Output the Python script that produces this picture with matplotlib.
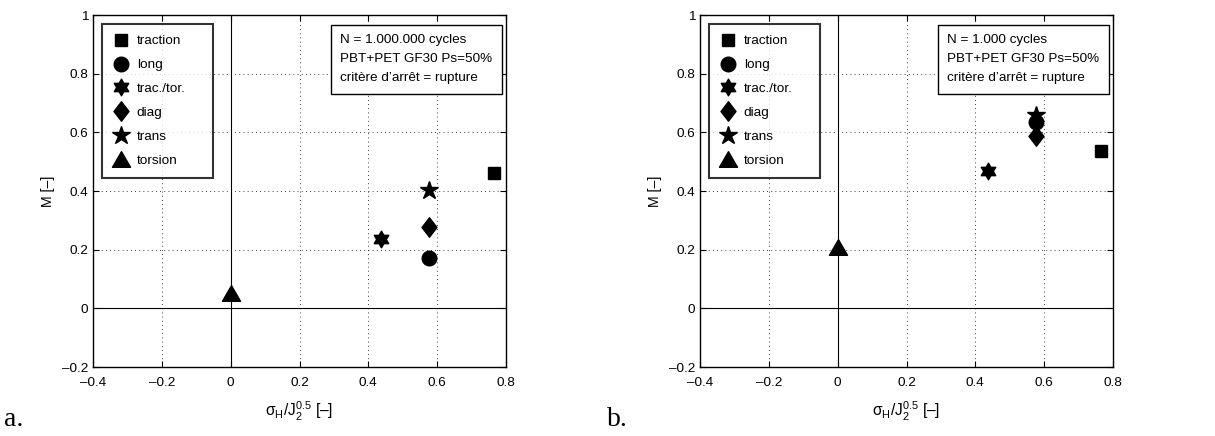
import numpy as np
import matplotlib
matplotlib.use("Agg")
import matplotlib.pyplot as plt
from matplotlib.path import Path
from matplotlib.ticker import FixedLocator, FixedFormatter

plt.rcParams['font.family'] = ['Liberation Sans', 'DejaVu Sans']
plt.rcParams['mathtext.fontset'] = 'custom'
plt.rcParams['mathtext.rm'] = 'Liberation Sans'
plt.rcParams['mathtext.it'] = 'Liberation Sans:italic'

# ---- data ----
series = ['traction', 'long', 'trac./tor.', 'diag', 'trans', 'torsion']
x_vals = [0.765, 0.577, 0.436, 0.577, 0.577, 0.0]
m_a = [0.463, 0.172, 0.236, 0.276, 0.405, 0.051]
m_b = [0.537, 0.634, 0.468, 0.586, 0.660, 0.210]
info_a = "N = 1.000.000 cycles\nPBT+PET GF30 Ps=50%\ncritère d’arrêt = rupture"
info_b = "N = 1.000 cycles\nPBT+PET GF30 Ps=50%\ncritère d’arrêt = rupture"
xticks = [-0.4, -0.2, 0, 0.2, 0.4, 0.6, 0.8]
xticklabels = ['–0.4', '–0.2', '0', '0.2', '0.4', '0.6', '0.8']
yticks = [-0.2, 0, 0.2, 0.4, 0.6, 0.8, 1.0]
yticklabels = ['–0.2', '0', '0.2', '0.4', '0.6', '0.8', '1']

# hexagram marker
ang_o = np.deg2rad(90 + np.arange(6) * 60)
ang_i = ang_o + np.deg2rad(30)
r_in = 1 / np.sqrt(3)
verts = []
for ao, ai in zip(ang_o, ang_i):
    verts.append((np.cos(ao), np.sin(ao)))
    verts.append((r_in * np.cos(ai), r_in * np.sin(ai)))
verts.append(verts[0])
hexagram = Path(verts, closed=True)
diamond = Path([(0, 1), (0.77, 0), (0, -1), (-0.77, 0), (0, 1)], closed=True)
triangle = Path([(0, 0.866), (1, -0.866), (-1, -0.866), (0, 0.866)], closed=True)

styles = [
    dict(marker='s', ms=8.5),
    dict(marker='o', ms=10.5),
    dict(marker=hexagram, ms=12),
    dict(marker=diamond, ms=14),
    dict(marker='*', ms=13.5),
    dict(marker=triangle, ms=13),
]

fs = 9.7
fig = plt.figure(figsize=(12.15, 4.36), dpi=100)
W, H = 1215, 436
panels = [(93, m_a, info_a, 'a.', 4), (700, m_b, info_b, 'b.', 607)]
for left_px, mvals, info, lab, labx in panels:
    ax = fig.add_axes([left_px / W, (H - 367) / H, 413 / W, 352 / H])
    ax.set_xlim(-0.4, 0.8)
    ax.set_ylim(-0.2, 1.0)
    ax.grid(True, linestyle=(0, (1, 4)), color='black', linewidth=0.6)
    ax.axvline(0, color='black', lw=0.8, zorder=1.5)
    ax.axhline(0, color='black', lw=0.8, zorder=1.5)
    for name, xv, yv, st in zip(series, x_vals, mvals, styles):
        ax.plot([xv], [yv], linestyle='none', color='black', mec='black',
                label=name, zorder=3, **st)
    ax.xaxis.set_major_locator(FixedLocator(xticks))
    ax.xaxis.set_major_formatter(FixedFormatter(xticklabels))
    ax.yaxis.set_major_locator(FixedLocator(yticks))
    ax.yaxis.set_major_formatter(FixedFormatter(yticklabels))
    ax.tick_params(direction='in', top=True, right=True, length=4,
                   labelsize=fs, width=0.8)
    ax.tick_params(axis='x', pad=7)
    for sp in ax.spines.values():
        sp.set_linewidth(1.0)
    ax.set_xlabel(r'$\mathregular{\sigma_H/J_2^{0.5}}$ [–]', fontsize=fs + 1.5, labelpad=8)
    ax.set_ylabel('M [–]', fontsize=fs + 0.5, labelpad=5)
    leg = ax.legend(loc='upper left', bbox_to_anchor=(0.021, 0.974, 0.27, 0.0),
                    mode='expand', borderaxespad=0.0,
                    fontsize=fs, frameon=True, fancybox=False,
                    edgecolor='black', labelspacing=0.85,
                    handlelength=1.2, handletextpad=0.6, borderpad=0.8,
                    numpoints=1)
    leg.get_frame().set_linewidth(1.5)
    ax.text(0.598, 0.946, info, transform=ax.transAxes, fontsize=fs,
            ha='left', va='top', linespacing=1.8,
            bbox=dict(boxstyle='square,pad=0.7', fc='white', ec='black', lw=1.0),
            zorder=5)
    fig.text(labx / W, (H - 419) / H, lab, fontsize=20, family='Liberation Serif',
             ha='left', va='center')

fig.savefig('out.png', dpi=100)
